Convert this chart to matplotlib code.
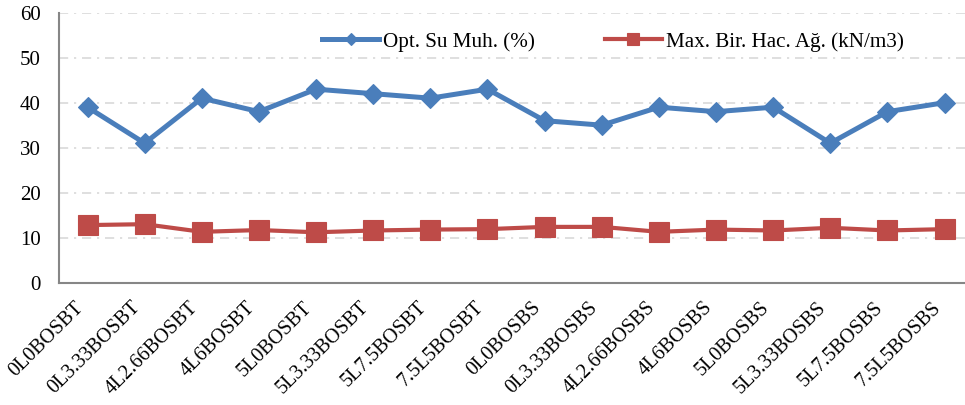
import matplotlib
matplotlib.use("Agg")
import matplotlib.pyplot as plt

categories = ["0L0BOSBT", "0L3.33BOSBT", "4L2.66BOSBT", "4L6BOSBT", "5L0BOSBT",
              "5L3.33BOSBT", "5L7.5BOSBT", "7.5L5BOSBT", "0L0BOSBS", "0L3.33BOSBS",
              "4L2.66BOSBS", "4L6BOSBS", "5L0BOSBS", "5L3.33BOSBS", "5L7.5BOSBS",
              "7.5L5BOSBS"]
opt_su = [39, 31, 41, 38, 43, 42, 41, 43, 36, 35, 39, 38, 39, 31, 38, 40]
max_bir = [12.8, 13.0, 11.3, 11.7, 11.2, 11.6, 11.8, 11.9, 12.4, 12.4, 11.3, 11.8, 11.6, 12.2, 11.6, 11.9]
yticks = [0, 10, 20, 30, 40, 50, 60]
series_names = ["Opt. Su Muh. (%)", "Max. Bir. Hac. Ağ. (kN/m3)"]

plt.rcParams['font.family'] = ['Liberation Serif', 'DejaVu Serif']

fig = plt.figure(figsize=(9.65, 4.05), dpi=100)
ax = fig.add_axes([0.0611, 0.302, 0.9473, 0.6667])

x = list(range(len(categories)))
ax.plot(x, opt_su, color='#4A7EBB', lw=3.6, marker='D', markersize=9.8,
        markeredgewidth=0.8, markeredgecolor='#4A7EBB', label=series_names[0], zorder=3)
ax.plot(x, max_bir, color='#BE4B48', lw=3.0, marker='s', markersize=14,
        markeredgewidth=0.8, markeredgecolor='#BE4B48', label=series_names[1], zorder=3)

ax.set_xlim(-0.5, len(categories) - 0.5)
ax.set_ylim(0, 60)
ax.set_yticks(yticks)
ax.set_xticks(x)
ax.set_xticklabels(categories, rotation=45, ha='right', va='top', fontsize=14.5)
ax.tick_params(axis='y', length=0, pad=13, labelsize=15)
ax.tick_params(axis='x', length=0, pad=11)

ax.yaxis.grid(True, color='#D9D9D9', lw=1.2, linestyle=(0, (5.5, 3.5, 1.3, 3.5)))
ax.set_axisbelow(True)
for s in ['top', 'right']:
    ax.spines[s].set_visible(False)
for s in ['left', 'bottom']:
    ax.spines[s].set_color('#868686')
    ax.spines[s].set_linewidth(1.5)
ax.spines['left'].set_zorder(4)

leg = ax.legend(loc='center left', bbox_to_anchor=(322 / 965, 1 - 41.7 / 405),
                bbox_transform=fig.transFigure, ncol=2, frameon=False, fontsize=15.2,
                handlelength=2.7, handletextpad=0.2, columnspacing=3.3,
                borderpad=0, borderaxespad=0, markerscale=0.6)

fig.savefig("out.png", dpi=100)
